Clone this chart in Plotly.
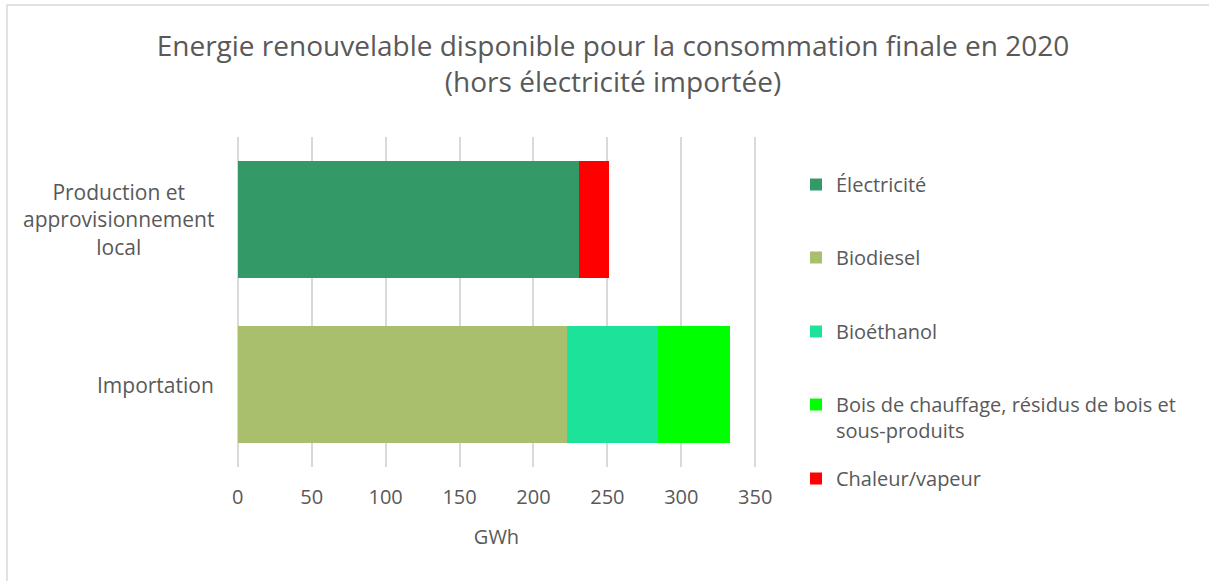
import plotly.graph_objects as go

# Categories (top to bottom) and stacked GWh values per energy carrier
categories = ["Production et approvisionnement local", "Importation"]
category_labels = ["Production et<br>approvisionnement<br>local", "Importation"]

electricite = [231, None]
biodiesel = [None, 223]
bioethanol = [None, 61]
bois = [None, 49]
chaleur = [20, None]

series_names = [
    "Électricité",
    "Biodiesel",
    "Bioéthanol",
    "Bois de chauffage, résidus de bois et<br>sous-produits",
    "Chaleur/vapeur",
]
series_values = [electricite, biodiesel, bioethanol, bois, chaleur]
series_colors = ["#339966", "#A9BF6E", "#1DE29A", "#00FF00", "#FF0000"]

x_ticks = [0, 50, 100, 150, 200, 250, 300, 350]

W, H = 1209, 581
ML, MR, MT, MB = 236, 452, 137, 114
PW = W - ML - MR
PH = H - MT - MB

FONT = "Open Sans"
GREY = "#595959"


def px_x(px):
    return (px - ML) / PW


def px_y(py):
    return (H - MB - py) / PH


fig = go.Figure()

# one legend per series so each entry can sit at its own height
legend_rows = [180, 253, 327, 400, 474]
for i, (name, vals, col) in enumerate(zip(series_names, series_values, series_colors)):
    lg = "legend" if i == 0 else f"legend{i + 1}"
    fig.add_trace(go.Bar(
        y=categories,
        x=vals,
        name=name,
        orientation="h",
        marker=dict(color=col, line=dict(width=0)),
        legend=lg,
        hoverinfo="x+name",
    ))

legend_common = dict(
    font=dict(family=FONT, size=20, color=GREY),
    bgcolor="rgba(0,0,0,0)",
    borderwidth=0,
    itemwidth=30,
    xanchor="left",
    valign="top",
)
for i, row in enumerate(legend_rows):
    key = "legend" if i == 0 else f"legend{i + 1}"
    fig.update_layout({key: dict(legend_common, x=px_x(796), y=px_y(row - 15), yanchor="top")})

# category labels centred on each bar, left of the plot area
for cat, lab in zip(categories, category_labels):
    fig.add_annotation(
        x=0, xref="paper", xanchor="right", xshift=-20,
        y=cat, yref="y",
        text=lab, showarrow=False, align="center",
        font=dict(family=FONT, size=21, color=GREY),
    )

# outer chart frame
fig.add_shape(
    type="rect", xref="paper", yref="paper",
    x0=px_x(7), x1=px_x(1230), y0=px_y(600), y1=px_y(5),
    line=dict(color="#d9d9d9", width=1.5), fillcolor="rgba(0,0,0,0)", layer="below",
)

fig.update_layout(
    width=W, height=H,
    margin=dict(l=ML, r=MR, t=MT, b=MB, pad=0),
    barmode="stack",
    bargap=0.285,
    paper_bgcolor="white",
    plot_bgcolor="white",
    title=dict(
        text="Energie renouvelable disponible pour la consommation finale en 2020<br>(hors électricité importée)",
        x=613 / W, xanchor="center",
        y=1 - 56 / H, yanchor="top",
        font=dict(family=FONT, size=28, color=GREY),
    ),
    xaxis=dict(
        range=[-1.2, 351.2],
        tickvals=x_ticks,
        ticktext=[str(t) for t in x_ticks],
        showgrid=True, gridcolor="#d9d9d9", gridwidth=1.5,
        zeroline=False, showline=False,
        ticks="", ticklabelstandoff=16,
        tickfont=dict(family=FONT, size=20, color=GREY),
        title=dict(text="GWh", standoff=20, font=dict(family=FONT, size=20, color=GREY)),
        fixedrange=True,
    ),
    yaxis=dict(
        categoryorder="array", categoryarray=categories,
        autorange="reversed",
        showticklabels=False, showgrid=False, zeroline=False, showline=False,
        ticks="",
        fixedrange=True,
    ),
    showlegend=True,
)

fig.write_html("out.html")
